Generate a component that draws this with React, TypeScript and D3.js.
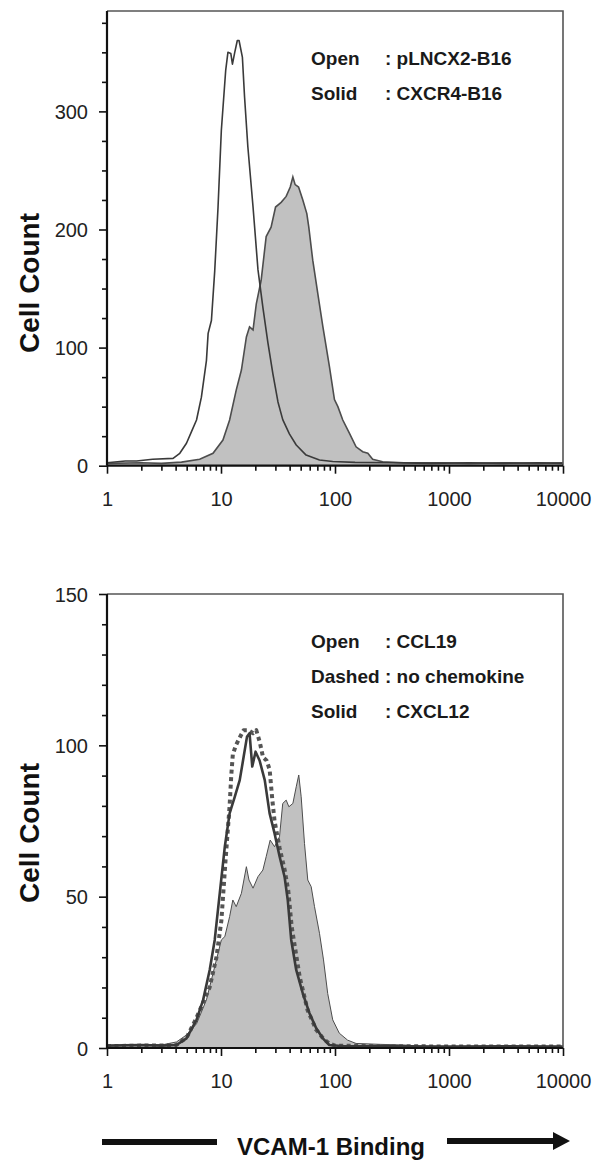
import React, { useEffect, useRef } from 'react';
import * as d3 from 'd3';

// top panel - pLNCX2-B16 (open) vs CXCR4-B16 (solid)
const topOpenX = [1, 1.45, 1.82, 2.51, 3.8, 4.35, 4.98, 5.51, 6.1, 6.73, 7.45, 7.71, 8.24, 8.81, 9.42, 10.07, 11.0, 11.5, 12.2, 12.6, 13.2, 13.9, 14.4, 15.4, 16.1, 17.2, 19.1, 21.1, 23.3, 25.8, 28.5, 31.6, 34.8, 39.8, 45.7, 55.8, 73.1, 95.5, 150, 300, 700, 1500, 3000, 6000, 10000];
const topOpenCount = [2.5, 4, 4, 5.4, 6.2, 10.5, 19, 28.8, 38.7, 58, 89, 112, 123, 165, 219, 284, 335, 350, 349, 340, 350, 360, 360, 346, 312, 270, 219, 166, 134, 104, 78, 54, 39, 27, 17.5, 9, 4.8, 3.5, 2.8, 2.5, 2.0, 2.5, 2.0, 2.5, 2.0];

const topSolidX = [1, 2, 3, 4.5, 6.5, 8.51, 10.4, 11.9, 13.6, 15.1, 16.7, 17.8, 19.1, 20.4, 22.5, 24.9, 27.5, 30.1, 33.7, 37.3, 40.5, 42.7, 44.7, 47.9, 52.2, 56.6, 58.9, 63.8, 70.6, 78.2, 89.3, 98.9, 106, 117, 134, 153, 175, 194, 214, 262, 400, 800, 1500, 3000, 6000, 10000];
const topSolidCount = [2, 2.5, 2, 3, 5.4, 10.5, 21.7, 38.7, 64, 81, 109, 117.6, 115, 137, 157, 194, 202, 219, 223, 228, 236, 244.5, 238, 236, 225, 213.5, 202, 174, 146, 118, 84, 56, 50, 38.7, 27.4, 16, 11.8, 10.5, 5.4, 3.4, 2.5, 2.5, 2, 2.5, 2, 2.5];

// bottom panel - CCL19 (open), no chemokine (dashed), CXCL12 (solid)
const botOpenX = [1, 2, 3, 4.07, 4.98, 6.1, 6.97, 7.96, 8.81, 9.75, 10.8, 11.9, 13.2, 14.6, 15.8, 16.9, 17.8, 18.8, 20.1, 21.8, 24.2, 26.7, 29.5, 32.7, 36.1, 38.5, 41.3, 45.7, 52.2, 59.7, 68.4, 78.2, 89.1, 120, 300, 1000, 3000, 10000];
const botOpenCount = [0.8, 1, 0.8, 1, 3.2, 9.3, 15.9, 25.8, 35.7, 51.1, 66.5, 77.5, 83, 88.5, 96.2, 102.8, 104, 93, 97.9, 95, 88.5, 77.5, 70.9, 63.2, 56.6, 48.9, 35.7, 25.8, 18, 11.5, 6.5, 3.2, 1, 0.6, 0.6, 0.5, 0.6, 0.5];

const botDashedX = [1, 2, 3, 4.07, 5.01, 6.1, 6.97, 7.94, 9.12, 10.07, 10.96, 11.9, 12.3, 12.7, 13.5, 14.8, 15.8, 17.4, 19.1, 20.4, 21.9, 23.4, 25.1, 26.7, 28.2, 29.5, 32.7, 36.1, 38.9, 41.7, 49, 57.5, 68.4, 79.4, 89.1, 100, 300, 1000, 10000];
const botDashedCount = [0.6, 0.8, 0.8, 1, 3.5, 10, 15, 20, 30, 42, 62, 80, 90, 97, 100, 103, 105, 105, 104, 105, 101, 96, 95, 92, 82, 75, 66, 59, 52, 40, 23.5, 12.5, 6, 3, 1.5, 0.8, 0.6, 0.5, 0.5];

const botSolidX = [1, 2, 3.2, 4.07, 4.98, 6.1, 7.45, 8.81, 10.07, 10.8, 11.9, 12.7, 13.6, 15.1, 16.7, 17.6, 19.1, 21.1, 23.3, 24.9, 27.0, 29.5, 32.6, 34.8, 37.3, 39.4, 42.7, 45.7, 48.1, 50.5, 54.0, 57.7, 61.8, 66.1, 73.1, 79.3, 86.3, 95.5, 109, 129, 153, 250, 400, 600, 2000, 10000];
const botSolidCount = [0.8, 0.8, 1.2, 2, 4.3, 8, 15.9, 26.9, 35.7, 36.8, 43.4, 48.9, 46.7, 51.1, 59.9, 55.5, 52.8, 56.6, 58.8, 63.2, 68.7, 66.5, 69.8, 80.8, 81.9, 79.7, 80.8, 86.3, 90.2, 83, 67.6, 55.5, 53.3, 46.7, 37.9, 29.1, 18, 9.3, 4.9, 2.6, 1.5, 1.2, 1.0, 0.5, 0.5, 0.5];

const xTicks = [1, 10, 100, 1000, 10000];
const topYTicks = [0, 100, 200, 300];
const botYTicks = [0, 50, 100, 150];

const topLegendKeys = ['Open', 'Solid'];
const topLegendNames = [': pLNCX2-B16', ': CXCR4-B16'];
const botLegendKeys = ['Open', 'Dashed', 'Solid'];
const botLegendNames = [': CCL19', ': no chemokine', ': CXCL12'];

const FONT = "'Liberation Sans', Arial, Helvetica, sans-serif";

type Series = { xs: number[]; ys: number[]; kind: 'fill' | 'open' | 'dashed' | 'openThick' };

function drawPanel(svg: any, cfg: {
  top: number; bottom: number; yMax: number; yTicks: number[]; yMinorStep: number;
  series: Series[]; keys: string[]; names: string[]; labelY: number;
}) {
  const left = 107, right = 563;
  const x = d3.scaleLog().domain([1, 10000]).range([left, right]);
  const y = d3.scaleLinear().domain([0, cfg.yMax]).range([cfg.bottom, cfg.top]);
  const g = svg.append('g');

  const pts = (s: Series) => s.xs.map((v, i) => [v, s.ys[i]] as [number, number]);

  const area = d3.area<[number, number]>()
    .x(d => x(d[0])).y0(y(0)).y1(d => y(d[1]));
  const line = d3.line<[number, number]>()
    .x(d => x(d[0])).y(d => y(d[1]));

  cfg.series.filter(s => s.kind === 'fill').forEach(s => {
    g.append('path').attr('d', area(pts(s))).attr('fill', '#c1c1c1');
    g.append('path').attr('d', line(pts(s))).attr('fill', 'none')
      .attr('stroke', '#4d4d4d').attr('stroke-width', cfg.series.length > 2 ? 1 : 1.6);
  });
  cfg.series.filter(s => s.kind !== 'fill').forEach(s => {
    const p = g.append('path').attr('d', line(pts(s))).attr('fill', 'none')
      .attr('stroke-linejoin', 'round');
    if (s.kind === 'open') p.attr('stroke', '#3a3a3a').attr('stroke-width', 1.6);
    if (s.kind === 'openThick') p.attr('stroke', '#3a3a3a').attr('stroke-width', 2.6);
    if (s.kind === 'dashed') p.attr('stroke', '#555').attr('stroke-width', 4)
      .attr('stroke-dasharray', '4 3.5');
  });

  // frame: top and right thin grey, left and bottom black
  g.append('path')
    .attr('d', `M${left},${cfg.top}H${right}V${cfg.bottom}`)
    .attr('fill', 'none').attr('stroke', '#555').attr('stroke-width', 1.6);

  // x axis
  const minors: number[] = [];
  [1, 10, 100, 1000].forEach(d => d3.range(2, 10).forEach(m => minors.push(d * m)));
  const xMinor = g.append('g').attr('transform', `translate(0,${cfg.bottom})`)
    .call(d3.axisBottom(x).tickValues(minors).tickSize(5).tickFormat(() => ''));
  const xMajor = g.append('g').attr('transform', `translate(0,${cfg.bottom})`)
    .call(d3.axisBottom(x).tickValues(xTicks).tickSize(8).tickPadding(18).tickFormat(d3.format('d')));

  // y axis
  const yMinors = d3.range(0, cfg.yMax + 0.01, cfg.yMinorStep).filter(v => !cfg.yTicks.includes(v));
  const yMinor = g.append('g').attr('transform', `translate(${left},0)`)
    .call(d3.axisLeft(y).tickValues(yMinors).tickSize(5).tickFormat(() => ''));
  const yMajor = g.append('g').attr('transform', `translate(${left},0)`)
    .call(d3.axisLeft(y).tickValues(cfg.yTicks).tickSize(8).tickPadding(11).tickFormat(d3.format('d')));

  [xMinor, xMajor, yMinor, yMajor].forEach(a => {
    a.select('.domain').remove();
    a.selectAll('line').attr('stroke', '#111').attr('stroke-width', 1.6);
    a.selectAll('text').attr('font-family', FONT).attr('font-size', 20).attr('fill', '#222');
  });
  yMajor.selectAll('text').attr('dy', '0.36em');

  g.append('line').attr('x1', left).attr('x2', right).attr('y1', cfg.bottom).attr('y2', cfg.bottom)
    .attr('stroke', '#111').attr('stroke-width', 2.2);
  g.append('line').attr('x1', left).attr('x2', left).attr('y1', cfg.top).attr('y2', cfg.bottom)
    .attr('stroke', '#111').attr('stroke-width', 2.2);

  // legend
  cfg.keys.forEach((k, i) => {
    const ty = cfg.top + 54 + i * 35;
    g.append('text').attr('x', 311).attr('y', ty).text(k)
      .attr('font-family', FONT).attr('font-size', 19).attr('font-weight', 'bold').attr('fill', '#1a1a1a');
    g.append('text').attr('x', 385).attr('y', ty).text(cfg.names[i])
      .attr('font-family', FONT).attr('font-size', 19).attr('font-weight', 'bold').attr('fill', '#1a1a1a');
  });

  g.append('text')
    .attr('transform', `translate(29,${cfg.labelY}) rotate(-90)`)
    .attr('text-anchor', 'middle').attr('dy', '0.36em')
    .attr('font-family', FONT).attr('font-size', 28).attr('font-weight', 'bold').attr('fill', '#111')
    .text('Cell Count');
}

export default function App() {
  const ref = useRef<SVGSVGElement>(null);

  useEffect(() => {
    const svg = d3.select(ref.current);
    svg.selectAll('*').remove();

    drawPanel(svg, {
      top: 11, bottom: 465.7, yMax: 385, yTicks: topYTicks, yMinorStep: 25,
      series: [
        { xs: topSolidX, ys: topSolidCount, kind: 'fill' },
        { xs: topOpenX, ys: topOpenCount, kind: 'open' },
      ],
      keys: topLegendKeys, names: topLegendNames, labelY: 283,
    });

    drawPanel(svg, {
      top: 594, bottom: 1048, yMax: 150, yTicks: botYTicks, yMinorStep: 10,
      series: [
        { xs: botSolidX, ys: botSolidCount, kind: 'fill' },
        { xs: botDashedX, ys: botDashedCount, kind: 'dashed' },
        { xs: botOpenX, ys: botOpenCount, kind: 'openThick' },
      ],
      keys: botLegendKeys, names: botLegendNames, labelY: 833,
    });

    // x-axis title with arrow
    const t = svg.append('g');
    t.append('rect').attr('x', 102).attr('y', 1139).attr('width', 115).attr('height', 6).attr('fill', '#111');
    t.append('text').attr('x', 237).attr('y', 1155).text('VCAM-1 Binding')
      .attr('font-family', FONT).attr('font-size', 24).attr('font-weight', 'bold').attr('fill', '#111');
    t.append('rect').attr('x', 447).attr('y', 1138).attr('width', 110).attr('height', 6).attr('fill', '#111');
    t.append('path').attr('d', 'M553,1132L570,1141L553,1150Z').attr('fill', '#111');
  }, []);

  return (
    <svg ref={ref} width={604} height={1163}
      style={{ position: 'absolute', left: 0, top: 0, background: '#fff' }} />
  );
}
